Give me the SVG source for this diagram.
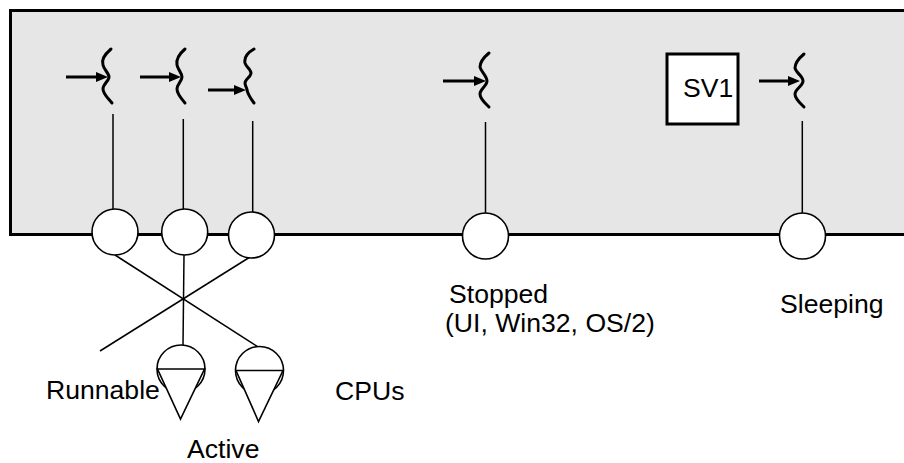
<svg xmlns="http://www.w3.org/2000/svg" width="904" height="463" viewBox="0 0 904 463">
<style>
.t{font-family:"Liberation Sans",Arial,sans-serif;font-size:26.6px;fill:#000}
.thin{stroke:#000;stroke-width:1.5;fill:none}
.node{fill:#fff;stroke:#000;stroke-width:1.6}
.sq{fill:none;stroke:#000;stroke-width:3;stroke-linecap:round;stroke-linejoin:round}
.arr{stroke:#000;stroke-width:3;marker-end:url(#ah)}
</style>
<defs>
<marker id="ah" viewBox="0 0 12 10" refX="1" refY="5" markerWidth="12" markerHeight="10" markerUnits="userSpaceOnUse" orient="auto">
<path d="M0,0 L12,5 L0,10 z" fill="#000"/>
</marker>
</defs>
<rect width="904" height="463" fill="#fff"/>
<g id="process">
<rect x="10.5" y="10.5" width="900" height="224" fill="#e6e6e6" stroke="#000" stroke-width="3"/>
</g>
<g id="threads">
<path class="sq" d="M111,49 C104,55 101,60 103,65 C104,70 109,73 109,77 C109,81 103,84 103,89 C103,94 108,98 112,103"/>
<path class="sq" d="M185,49 C178,55 176,60 177,65 C178,70 182,73 182,77 C182,81 177,84 177,89 C177,94 181,98 185,103"/>
<path class="sq" d="M254,49 C247,53 244,58 245,63 C246,67 251,69 251,73 C251,77 245,79 245,83 C245,86 247,88 247,90 C248,95 251,99 254,103"/>
<path class="sq" d="M489,53 C483,58 480,62 480,67 C481,72 487,76 487,81 C487,86 480,89 480,94 C480,99 485,103 489,107"/>
<path class="sq" d="M804,54 C798,59 795,63 795,68 C796,73 803,76 803,81 C803,86 795,89 795,94 C795,99 800,103 804,107"/>
</g>
<g id="arrows">
<line class="arr" x1="66" y1="77" x2="97" y2="77"/>
<line class="arr" x1="140" y1="77" x2="170" y2="77"/>
<line class="arr" x1="208" y1="90" x2="235" y2="90"/>
<line class="arr" x1="443" y1="81" x2="475" y2="81"/>
<line class="arr" x1="759" y1="81" x2="789" y2="81"/>
</g>
<g id="connectors">
<line class="thin" x1="113" y1="114" x2="113" y2="210"/>
<line class="thin" x1="183.3" y1="119" x2="183.3" y2="210"/>
<line class="thin" x1="252.7" y1="121" x2="252.7" y2="213"/>
<line class="thin" x1="485.5" y1="122" x2="485.5" y2="214"/>
<line class="thin" x1="802.3" y1="121" x2="802.3" y2="214"/>
<line class="thin" x1="115" y1="255" x2="258" y2="347"/>
<line class="thin" x1="250" y1="257" x2="100" y2="351"/>
<line class="thin" x1="184" y1="255" x2="183" y2="345"/>
</g>
<g id="lwp1"><circle class="node" cx="115" cy="232" r="23"/></g>
<g id="lwp2"><circle class="node" cx="184.7" cy="232" r="23"/></g>
<g id="lwp3"><circle class="node" cx="251.5" cy="235" r="23"/></g>
<g id="lwp-stopped"><circle class="node" cx="485.5" cy="236" r="23"/></g>
<g id="lwp-sleeping"><circle class="node" cx="802.5" cy="236" r="23"/></g>
<g id="cpu1">
<circle class="node" cx="181" cy="369" r="24"/>
<polygon class="node" points="157.5,369 204.5,369 180.5,419"/>
</g>
<g id="cpu2">
<circle class="node" cx="259.5" cy="370.5" r="24"/>
<polygon class="node" points="236,370.5 283,370.5 258.5,421.5"/>
</g>
<g id="sv1">
<rect x="667" y="54" width="71" height="70" fill="#fff" stroke="#000" stroke-width="3"/>
<text class="t" x="683" y="97">SV1</text>
</g>
<g id="labels">
<text class="t" x="46" y="399">Runnable</text>
<text class="t" x="187" y="458">Active</text>
<text class="t" x="335" y="400">CPUs</text>
<text class="t" x="449" y="303">Stopped</text>
<text class="t" x="445" y="332">(UI, Win32, OS/2)</text>
<text class="t" x="780" y="313">Sleeping</text>
</g>
</svg>
